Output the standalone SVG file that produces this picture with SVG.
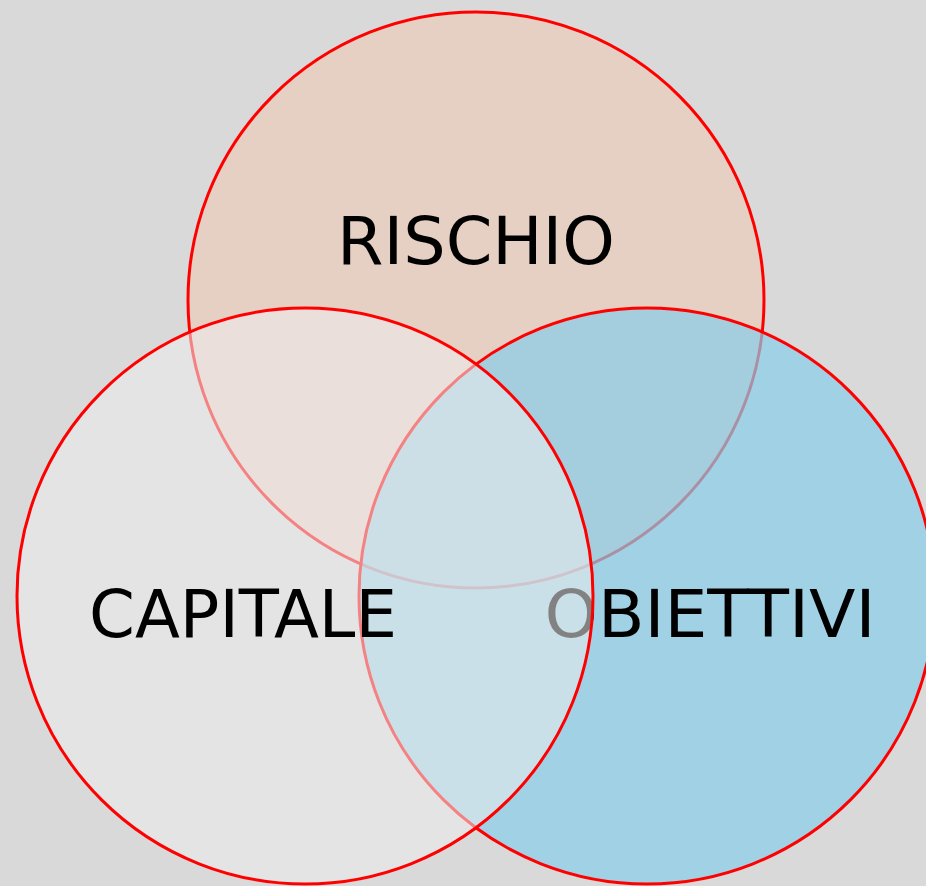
<svg xmlns="http://www.w3.org/2000/svg" width="926" height="886" viewBox="0 0 926 886">
<style>
.c{stroke:#ff0000;stroke-width:3}
.t{font-family:"DejaVu Sans","Liberation Sans",sans-serif;font-size:65px;fill:#000;text-anchor:middle}
</style>
<rect width="926" height="886" fill="#d9d9d9"/>
<g id="rischio">
<circle class="c" cx="476" cy="300" r="288" fill="#e6cfc3"/>
<text class="t" x="476" y="264" textLength="278" lengthAdjust="spacingAndGlyphs">RISCHIO</text>
</g>
<g id="obiettivi">
<circle class="c" cx="647" cy="596" r="288" fill="#87cde9" fill-opacity="0.7"/>
<text class="t" x="710" y="637" textLength="331" lengthAdjust="spacingAndGlyphs">OBIETTIVI</text>
</g>
<g id="capitale">
<circle class="c" cx="305" cy="596" r="288" fill="#ededed" fill-opacity="0.55"/>
<text class="t" x="243" y="637" textLength="308" lengthAdjust="spacingAndGlyphs">CAPITALE</text>
</g>
<g id="connectors"/>
</svg>
